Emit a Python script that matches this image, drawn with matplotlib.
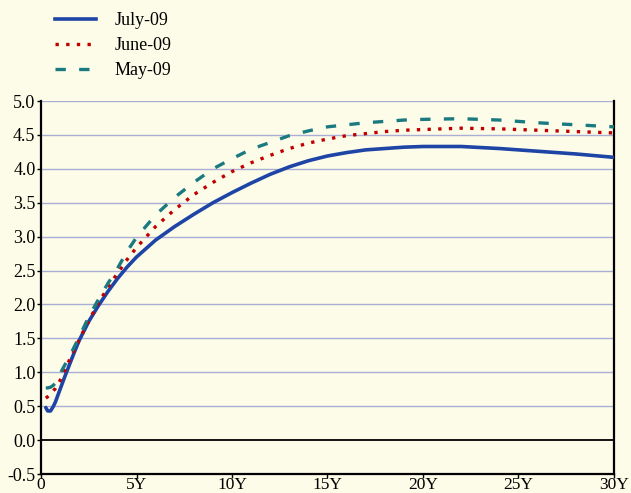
import numpy as np
import matplotlib.pyplot as plt
from matplotlib.lines import Line2D

maturity = [0.25, 0.35, 0.5, 0.65, 0.75, 1, 1.25, 1.5, 1.75, 2, 2.5, 3, 3.5, 4,
            4.5, 5, 6, 7, 8, 9, 10, 11, 12, 13, 14, 15, 16, 17, 18, 19, 20,
            22, 24, 26, 28, 30]
july_09 = [0.48, 0.43, 0.43, 0.50, 0.56, 0.75, 0.94, 1.12, 1.30, 1.47, 1.75,
           1.98, 2.19, 2.38, 2.55, 2.70, 2.95, 3.15, 3.33, 3.50, 3.65, 3.79,
           3.92, 4.03, 4.12, 4.19, 4.24, 4.28, 4.30, 4.32, 4.33, 4.33, 4.30,
           4.26, 4.22, 4.17]
june_09 = [0.62, 0.64, 0.68, 0.73, 0.76, 0.88, 1.03, 1.19, 1.33, 1.48, 1.76,
           2.02, 2.25, 2.46, 2.66, 2.84, 3.15, 3.40, 3.62, 3.80, 3.96, 4.09,
           4.20, 4.30, 4.38, 4.44, 4.49, 4.52, 4.55, 4.57, 4.58, 4.60, 4.59,
           4.57, 4.55, 4.53]
may_09 = [0.77, 0.77, 0.78, 0.81, 0.84, 0.98, 1.11, 1.24, 1.38, 1.52, 1.82,
          2.07, 2.31, 2.53, 2.78, 2.99, 3.32, 3.58, 3.80, 4.00, 4.15, 4.29,
          4.39, 4.49, 4.56, 4.62, 4.65, 4.68, 4.70, 4.72, 4.73, 4.74, 4.72,
          4.68, 4.65, 4.62]
x_ticks = [0, 5, 10, 15, 20, 25, 30]
x_labels = ['0', '5Y', '10Y', '15Y', '20Y', '25Y', '30Y']
y_ticks = np.arange(-0.5, 5.01, 0.5)

bg = '#FDFCE9'
blue, red, teal = '#1E45A6', '#C00000', '#1A7A80'
dot = (0, (1, 2.2))
dash = (0, (3.1, 4.0))
plt.rcParams['font.family'] = ['Liberation Serif', 'DejaVu Serif']

fig = plt.figure(figsize=(6.31, 4.93), dpi=100, facecolor=bg)
ax = fig.add_axes([0.065, 0.0385, 0.908, 0.7565], facecolor=bg)

for y in y_ticks:
    if y == 0:
        ax.axhline(0, color='black', lw=1.3, zorder=1)
    else:
        ax.axhline(y, color='#A9AED4', lw=1.0, zorder=1)

ax.plot(maturity, july_09, color=blue, lw=2.6, solid_capstyle='round', solid_joinstyle='round', zorder=3)
ax.plot(maturity, june_09, color=red, lw=2.4, linestyle=dot, zorder=3)
ax.plot(maturity, may_09, color=teal, lw=2.4, linestyle=dash, zorder=3)

ax.set_xlim(0, 30)
ax.set_ylim(-0.5, 5.0)
ax.set_xticks(x_ticks)
ax.set_xticklabels(x_labels)
ax.set_yticks(y_ticks)
ax.set_yticklabels(['%.1f' % v for v in y_ticks])
ax.tick_params(axis='both', labelsize=13, length=3, width=1, direction='out', pad=1, colors='black')
ax.tick_params(axis='x', labelsize=12.5, pad=-0.5)

for s in ['left', 'right', 'bottom']:
    ax.spines[s].set_color('black')
    ax.spines[s].set_linewidth(1.6)
ax.spines['top'].set_visible(False)

handles = [Line2D([], [], color=blue, lw=2.6),
           Line2D([], [], color=red, lw=2.4, linestyle=dot),
           Line2D([], [], color=teal, lw=2.4, linestyle=dash)]
fig.legend(handles, ['July-09', 'June-09', 'May-09'], loc='upper left',
           bbox_to_anchor=(0.087, 0.976), frameon=False, fontsize=13,
           handlelength=2.3, handletextpad=1.0, labelspacing=0.45,
           borderpad=0, borderaxespad=0)

fig.savefig('out.png', dpi=100, facecolor=bg)
